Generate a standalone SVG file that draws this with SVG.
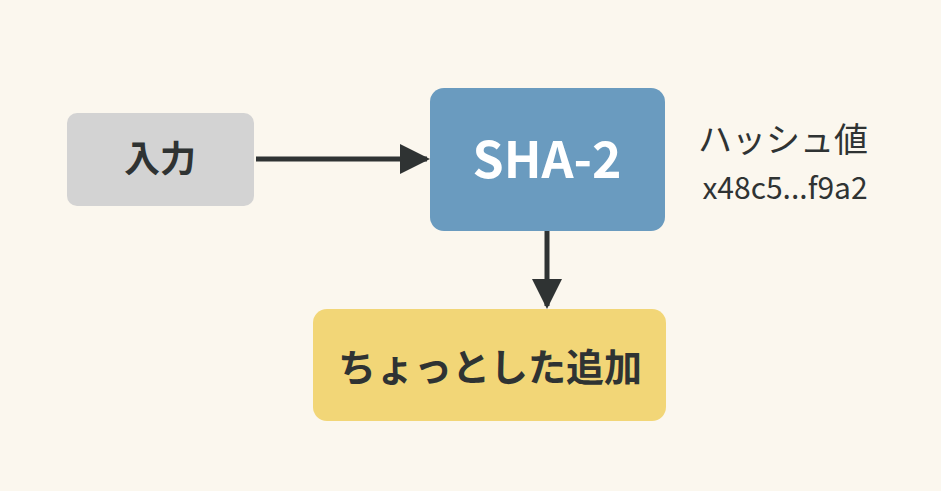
<svg xmlns="http://www.w3.org/2000/svg" width="941" height="491" viewBox="0 0 941 491">
<style>
text{font-family:"Noto Sans CJK JP","Liberation Sans",sans-serif;text-anchor:middle}
.c{stroke:#2f3333;stroke-width:5;fill:none}
</style>
<defs><marker id="a" viewBox="0 0 10 10" refX="9" refY="5" markerWidth="6" markerHeight="6" orient="auto" markerUnits="strokeWidth"><path d="M0,0L10,5L0,10z" fill="#2f3333"/></marker></defs>
<rect width="941" height="491" fill="#fbf7ee"/>
<g id="input"><rect x="67" y="113" width="187" height="93" rx="10" fill="#d3d3d3"/><text x="160" y="172" font-size="36" font-weight="bold" fill="#2f3333">入力</text></g>
<g id="sha"><rect x="430" y="88" width="235" height="143" rx="14" fill="#6a9bbf"/><text x="547" y="178" font-size="50" font-weight="bold" fill="#fff">SHA-2</text></g>
<g id="add"><rect x="313" y="309" width="353" height="112" rx="14" fill="#f2d677"/><text x="490" y="381" font-size="38" font-weight="bold" fill="#2f3333">ちょっとした追加</text></g>
<g id="hash"><text x="783" y="152" font-size="34" fill="#2f3333">ハッシュ値</text><text x="785" y="199" font-size="30" fill="#2f3333">x48c5...f9a2</text></g>
<g id="connectors"><path class="c" d="M256 159H427" marker-end="url(#a)"/><path class="c" d="M547 231V306" marker-end="url(#a)"/></g>
</svg>
